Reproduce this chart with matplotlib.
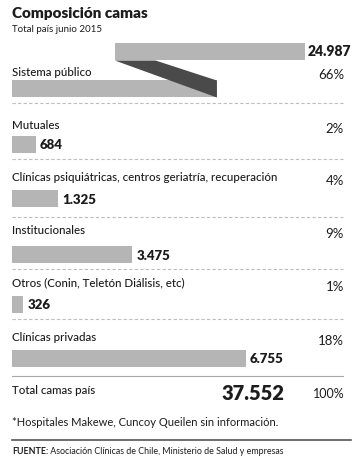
"""Composición camas - total país junio 2015."""

import matplotlib
matplotlib.use("Agg")
import matplotlib.pyplot as plt
from matplotlib.patches import Polygon

plt.rcParams.update({
    "font.family": ["Lato", "DejaVu Sans"],
    "font.size": 9,
})

# Data
categorias = [
    "Sistema público",
    "Mutuales",
    "Clínicas psiquiátricas, centros geriatría, recuperación",
    "Institucionales",
    "Otros (Conin, Teletón Diálisis, etc)",
    "Clínicas privadas",
]
camas = [24987, 684, 1325, 3475, 326, 6755]
porcentajes = [66, 2, 4, 9, 1, 18]
total_camas = 37552
total_pct = 100

# Style
BAR = "#b5b5b5"
FOLD = "#4a4a4a"
TEXT = "#1c1c1c"
DASH = "#bdbdbd"
W, H = 362, 465
LEFT = 12
PX_PER_UNIT = 0.0346          # pixels per bed
BAR_H = 17
LABEL_FS = 8.3

# row layout (pixel rows from the top)
label_y = [72, 125, 177, 230, 283, 337]
bar_y = [89, 144, 198.5, 254.5, 304, 358]
sep_y = [103, 159, 217, 269, 319]

# folded public bar: fractions of its value
LOW_END = 0.237
TOP_START = 0.119
TOP_END = 0.339
TOP_Y = 52


def fmt(v):
    return f"{v:,}".replace(",", ".")


fig = plt.figure(figsize=(W / 100, H / 100), dpi=100)
fig.patch.set_facecolor("white")

# text/lines axes in pixel coords
ax = fig.add_axes([0, 0, 1, 1])
ax.set_xlim(0, W)
ax.set_ylim(H, 0)
ax.axis("off")

# bars axes in data units
bx = fig.add_axes([LEFT / W, 0, (W - LEFT) / W, 1])
bx.set_xlim(0, (W - LEFT) / PX_PER_UNIT)
bx.set_ylim(H, 0)
bx.axis("off")
bx.patch.set_alpha(0)

ax.text(LEFT, 14, "Composición camas", fontsize=11, fontweight="heavy",
        color=TEXT, va="center")
ax.text(LEFT, 30, "Total país junio 2015", fontsize=7, color=TEXT, va="center")

# public system: folded bar
pub = camas[0]
low = pub * LOW_END
t0, t1 = pub * TOP_START, pub * TOP_END
bx.barh(bar_y[0], low, height=BAR_H, color=BAR)
bx.barh(TOP_Y, t1 - t0, left=t0, height=BAR_H, color=BAR)
fold_w = pub * 0.047
bx.add_patch(Polygon([(t0, TOP_Y + BAR_H / 2), (t0 + fold_w, TOP_Y + BAR_H / 2),
                      (low, bar_y[0] - BAR_H / 2), (low, bar_y[0] + BAR_H / 2)],
                     closed=True, color=FOLD, lw=0))
bx.text(t1 + 3 / PX_PER_UNIT, TOP_Y, fmt(pub), fontsize=10,
        fontweight="heavy", color=TEXT, va="center")
ax.text(LEFT, label_y[0], categorias[0], fontsize=LABEL_FS, fontweight="medium",
        color=TEXT, va="center")
ax.text(344, label_y[0] + 3, f"{porcentajes[0]}%", fontsize=9.5, color=TEXT,
        va="center", ha="right")

# remaining categories
for i in range(1, len(categorias)):
    ax.text(LEFT, label_y[i], categorias[i], fontsize=LABEL_FS, fontweight="medium",
            color=TEXT, va="center")
    ax.text(344, label_y[i] + 4, f"{porcentajes[i]}%", fontsize=9.5, color=TEXT,
            va="center", ha="right")
    bx.barh(bar_y[i], camas[i], height=BAR_H, color=BAR)
    bx.text(camas[i] + 4 / PX_PER_UNIT, bar_y[i] + 1, fmt(camas[i]), fontsize=9.5,
            fontweight="heavy", color=TEXT, va="center")

for y in sep_y:
    ax.plot([LEFT, 343], [y, y], color=DASH, lw=0.8, ls=(0, (3, 2)))
ax.plot([LEFT, 343], [376, 376], color="#a8a8a8", lw=0.8)

# total
ax.text(LEFT, 390, "Total camas país", fontsize=LABEL_FS, fontweight="medium",
        color=TEXT, va="center")
ax.text(284, 393, fmt(total_camas), fontsize=14.5, fontweight="heavy",
        color=TEXT, va="center", ha="right")
ax.text(345, 394, f"{total_pct}%", fontsize=9, color=TEXT, va="center", ha="right")

ax.text(LEFT, 422, "*Hospitales Makewe, Cuncoy Queilen sin información.",
        fontsize=8, color=TEXT, va="center")
ax.plot([LEFT, 351], [440, 440], color="#555555", lw=1.2)
fuente = ax.text(LEFT, 451, "FUENTE:", fontsize=6.4, fontweight="bold",
                 color=TEXT, va="center")
ax.annotate(" Asociación Clínicas de Chile, Ministerio de Salud y empresas",
            xy=(1, 0.5), xycoords=fuente, fontsize=6.4, color=TEXT,
            va="center", ha="left")

fig.savefig("out.png", dpi=100, facecolor="white")
